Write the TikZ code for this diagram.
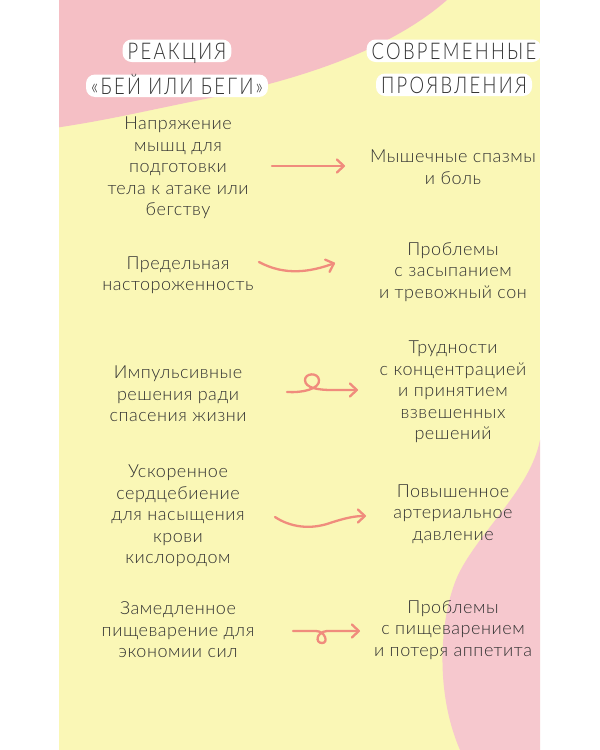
\documentclass[tikz,border=0pt]{standalone}
\usepackage{fontspec}
\setmainfont{Lato Light}[LetterSpace=3]
\newfontfamily\headfont{Lato Light}[LetterSpace=10,FakeStretch=0.8]
\usetikzlibrary{arrows.meta}
\definecolor{panelyellow}{RGB}{250,247,182}
\definecolor{blobpink}{RGB}{245,191,197}
\definecolor{blobpinklight}{RGB}{246,200,206}
\definecolor{arrowsalmon}{RGB}{240,140,125}
\definecolor{inkgray}{RGB}{50,50,50}
\tikzset{
  headline/.style={fill=white,rounded corners=9pt,inner xsep=5pt,inner ysep=3pt,
    text height=16.5pt,text depth=0pt,anchor=base,text=inkgray,
    font=\headfont\fontsize{23}{27}\selectfont},
  bodytext/.style={align=center,inner sep=0pt,text=inkgray,
    font=\fontsize{18}{21.5}\selectfont},
  hint/.style={draw=arrowsalmon,line width=2.3pt,line cap=round,
    -{Straight Barb[length=7pt,width=13pt,round]}}
}

\begin{document}
\begin{tikzpicture}[x=1pt,y=-1pt]
\useasboundingbox (0,0) rectangle (600,750);
\fill[white] (0,0) rectangle (600,750);
\fill[panelyellow] (59,0) rectangle (540,750);
% background blobs
\begin{scope}
\clip (59,0) rectangle (540,750);
\fill[blobpink] (40,0) -- (447,0) .. controls (390,50) and (300,80) .. (200,100)
  .. controls (140,112) and (100,122) .. (40,130) -- cycle;
\fill[blobpinklight] (560,430) -- (540,440) .. controls (530,490) and (480,530) .. (458,575)
  .. controls (440,615) and (434,690) .. (460,750) -- (560,750) -- cycle;
\end{scope}

% headings
\node (hl1) at (177,59) [headline] {РЕАКЦИЯ};
\node (hl2) at (177,94) [headline] {«БЕЙ ИЛИ БЕГИ»};
\node (hr1) at (454,59) [headline] {СОВРЕМЕННЫЕ};
\node (hr2) at (454,93) [headline] {ПРОЯВЛЕНИЯ};

% left column
\node (l1) at (178,168) [bodytext] {Напряжение\\мышц для\\подготовки\\тела к атаке или\\бегству};
\node (l2) at (178,275) [bodytext] {Предельная\\настороженность};
\node (l3) at (178,394) [bodytext] {Импульсивные\\решения ради\\спасения жизни};
\node (l4) at (178,516) [bodytext] {Ускоренное\\сердцебиение\\для насыщения\\крови\\кислородом};
\node (l5) at (178,630) [bodytext] {Замедленное\\пищеварение для\\экономии сил};

% right column
\node (r1) at (453,167) [bodytext] {Мышечные спазмы\\и боль};
\node (r2) at (453,272) [bodytext] {Проблемы\\с засыпанием\\и тревожный сон};
\node (r3) at (453,392) [bodytext] {Трудности\\с концентрацией\\и принятием\\взвешенных\\решений};
\node (r4) at (453,514) [bodytext] {Повышенное\\артериальное\\давление};
\node (r5) at (453,630) [bodytext] {Проблемы\\с пищеварением\\и потеря аппетита};

% arrows
\coordinate (a1s) at (272,166);
\coordinate (a1e) at (345,166);
\coordinate (a2s) at (259,262);
\coordinate (a2e) at (335,263);
\coordinate (a3s) at (287,392);
\coordinate (a3e) at (358,390);
\coordinate (a4s) at (275,517);
\coordinate (a4e) at (366,516);
\coordinate (a5s) at (293,631);
\coordinate (a5e) at (360,631);
\draw[hint] (a1s) -- (a1e);
\draw[hint] (a2s) .. controls (285,276) and (310,272) .. (a2e);
\draw[hint] (a3s) .. controls (302,393) and (320,389) .. (319,380)
  .. controls (318,372) and (305,373) .. (305,380)
  .. controls (305,388) and (318,390) .. (332,390) -- (a3e);
\draw[hint] (a4s) .. controls (290,527) and (310,530) .. (330,523)
  .. controls (345,518) and (355,516) .. (a4e);
\draw[hint] (a5s) -- (316,631) .. controls (325,631) and (329,643) .. (322,643)
  .. controls (315,643) and (316,632) .. (327,631) -- (a5e);
\end{tikzpicture}
\end{document}
